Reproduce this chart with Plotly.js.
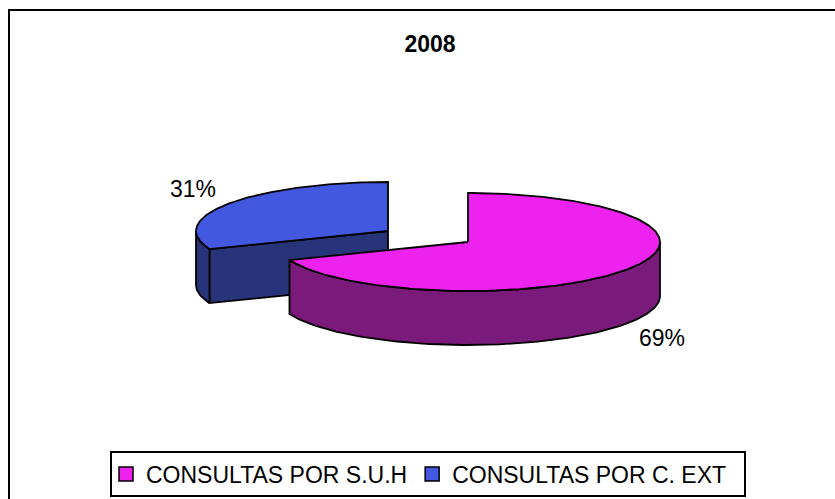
<!DOCTYPE html>
<html>
<head>
<meta charset="utf-8">
<script src="https://cdn.plot.ly/plotly-3.0.1.min.js"></script>
<style>html,body{margin:0;padding:0;background:#fff;}#chart{width:835px;height:499px;}</style>
</head>
<body>
<div id="chart"></div>
<script>
// ---- data ----
const categories = ['CONSULTAS POR S.U.H', 'CONSULTAS POR C. EXT'];
const values = [69, 31];
const percentLabels = ['69%', '31%'];
const chartTitle = '2008';

// ---- style ----
const topColors = ['#EE22EE', '#4358E0'];
const sideColors = ['#7A1A7A', '#27347A'];
const FONT = 'Liberation Sans, Arial, sans-serif';

// ---- 3D pie geometry (pixel space via axes) ----
const geo = { cx: 468, cy: 242, rx: 192, ry: 49, depth: 54 };
const sliceOffset = [[0, 0], [-80, -11]]; // explosion of each slice
const labelPos = [[662, 338], [193, 189]];

const total = values.reduce((a, b) => a + b, 0);
const slices = [];
let acc = 0;
values.forEach((v, i) => {
  const a0 = acc / total * 360;
  acc += v;
  const a1 = acc / total * 360;
  slices.push({ i, a0, a1, cx: geo.cx + sliceOffset[i][0], cy: geo.cy + sliceOffset[i][1] });
});

function pt(s, a, dz) {
  const r = a * Math.PI / 180;
  return [s.cx + geo.rx * Math.sin(r), s.cy - geo.ry * Math.cos(r) + (dz || 0)];
}
function arc(s, from, to, dz) {
  const pts = [];
  const n = Math.max(2, Math.ceil(Math.abs(to - from)));
  for (let k = 0; k <= n; k++) pts.push(pt(s, from + (to - from) * k / n, dz));
  return pts;
}
function poly(points, color) {
  return {
    type: 'scatter', mode: 'lines', fill: 'toself', fillcolor: color,
    x: points.map(p => p[0]), y: points.map(p => p[1]),
    line: { color: '#000', width: 1.8 }, hoverinfo: 'skip', showlegend: false
  };
}

const traces = [];
// draw back slices first
const order = slices.slice().sort((a, b) => a.cy - b.cy);
order.forEach(s => {
  const D = geo.depth;
  const c = [s.cx, s.cy], cb = [s.cx, s.cy + D];
  // start radial face
  if (s.a0 > 180 && s.a0 < 360) {
    const e = pt(s, s.a0), eb = pt(s, s.a0, D);
    traces.push(poly([c, e, eb, cb, c], sideColors[s.i]));
  }
  // end radial face
  if (s.a1 > 0 && s.a1 < 180) {
    const e = pt(s, s.a1), eb = pt(s, s.a1, D);
    traces.push(poly([c, e, eb, cb, c], sideColors[s.i]));
  }
  // outer curved wall (front half 90..270)
  const w0 = Math.max(s.a0, 90), w1 = Math.min(s.a1, 270);
  if (w1 > w0) {
    const top = arc(s, w0, w1, 0), bot = arc(s, w1, w0, D);
    const p = top.concat(bot); p.push(top[0]);
    traces.push(poly(p, sideColors[s.i]));
  }
  // top face
  const t = [c].concat(arc(s, s.a0, s.a1, 0)); t.push(c);
  traces.push(poly(t, topColors[s.i]));
});

// legend entries
categories.forEach((name, i) => {
  traces.push({
    type: 'scatter', mode: 'markers', name: name, x: [-100], y: [-100],
    marker: { symbol: 'square', size: 14, color: topColors[i], line: { color: '#000', width: 1.5 } },
    hoverinfo: 'skip', showlegend: true
  });
});

const annotations = percentLabels.map((t, i) => ({
  x: labelPos[i][0], y: labelPos[i][1], xref: 'x', yref: 'y', text: t, showarrow: false,
  font: { family: FONT, size: 23, color: '#000' }, xanchor: 'center', yanchor: 'middle'
}));

const layout = {
  width: 835, height: 499,
  margin: { l: 0, r: 0, t: 0, b: 0 },
  paper_bgcolor: '#fff', plot_bgcolor: '#fff',
  xaxis: { range: [0, 835], visible: false, fixedrange: true },
  yaxis: { range: [499, 0], visible: false, fixedrange: true },
  title: {
    text: '<b>' + chartTitle + '</b>', x: 430 / 835, y: 1 - 44 / 499,
    xanchor: 'center', yanchor: 'middle', font: { family: FONT, size: 23, color: '#000' }
  },
  showlegend: true,
  legend: {
    orientation: 'h', x: 106 / 835, y: 1 - 474 / 499, xanchor: 'left', yanchor: 'middle',
    font: { family: FONT, size: 23, color: '#000' }, bgcolor: 'rgba(0,0,0,0)', borderwidth: 0,
    traceorder: 'normal'
  },
  annotations: annotations,
  shapes: [
    { type: 'rect', xref: 'x', yref: 'y', x0: 9, y0: 10, x1: 900, y1: 560, line: { color: '#000', width: 2 } },
    { type: 'rect', xref: 'x', yref: 'y', x0: 111, y0: 452, x1: 745, y1: 496, line: { color: '#000', width: 2 } }
  ]
};

Plotly.newPlot('chart', traces, layout, { staticPlot: true, displayModeBar: false });
</script>
</body>
</html>
